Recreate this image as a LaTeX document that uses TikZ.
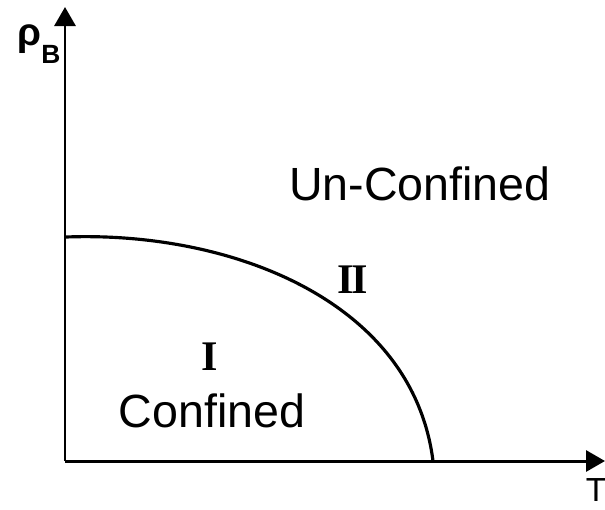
\documentclass[tikz,border=0pt]{standalone}
\usepackage{fontspec}
\setmainfont{Liberation Sans}
\newfontfamily\numfont{Liberation Serif}
\usetikzlibrary{arrows.meta}
\begin{document}
\begin{tikzpicture}
	% styles
	\tikzstyle{axis} += [line width=1.7pt,-{Triangle[length=0.38cm,width=0.42cm]}]
	\tikzstyle{border} += [line width=1.8pt]
	\tikzstyle{region} += [font=\fontsize{26.5}{30}\selectfont]
	\tikzstyle{phase} += [font=\fontsize{24}{24}\numfont\bfseries]
	
	% bounding box
	\useasboundingbox (0,0) rectangle (12.1,10.18);
	
	% axes
	\coordinate (O) at (1.30,0.96);
	\coordinate (ytip) at (1.30,10.04);
	\coordinate (xtip) at (12.10,0.96);
	\draw[axis] (O) -- (ytip);
	\draw[axis] (O) -- (xtip);
	\node[font=\fontsize{22}{22}\selectfont\bfseries,inner sep=0pt] (rhoB) at (0.78,9.30) {ρ\raisebox{-0.9ex}{\fontsize{15}{15}\selectfont B}};
	\node[font=\fontsize{19}{20}\selectfont,inner sep=0pt] (Tlabel) at (11.92,0.38) {T};
	
	% phase boundary
	\coordinate (c0) at (1.32,5.44);
	\coordinate (c1) at (8.66,0.96);
	\draw[border] (c0) .. controls (4.60,5.56) and (8.25,4.18) .. (c1);
	
	% labels
	\node[phase] (one) at (4.20,3.04) {I};
	\node[phase] (two) at (7.06,4.58) {I\kern-1.4pt I};
	\node[region,anchor=base] (unconf) at (8.40,6.18) {Un-Confined};
	\node[region,anchor=base] (conf) at (4.24,1.64) {Confined};
\end{tikzpicture}
\end{document}
